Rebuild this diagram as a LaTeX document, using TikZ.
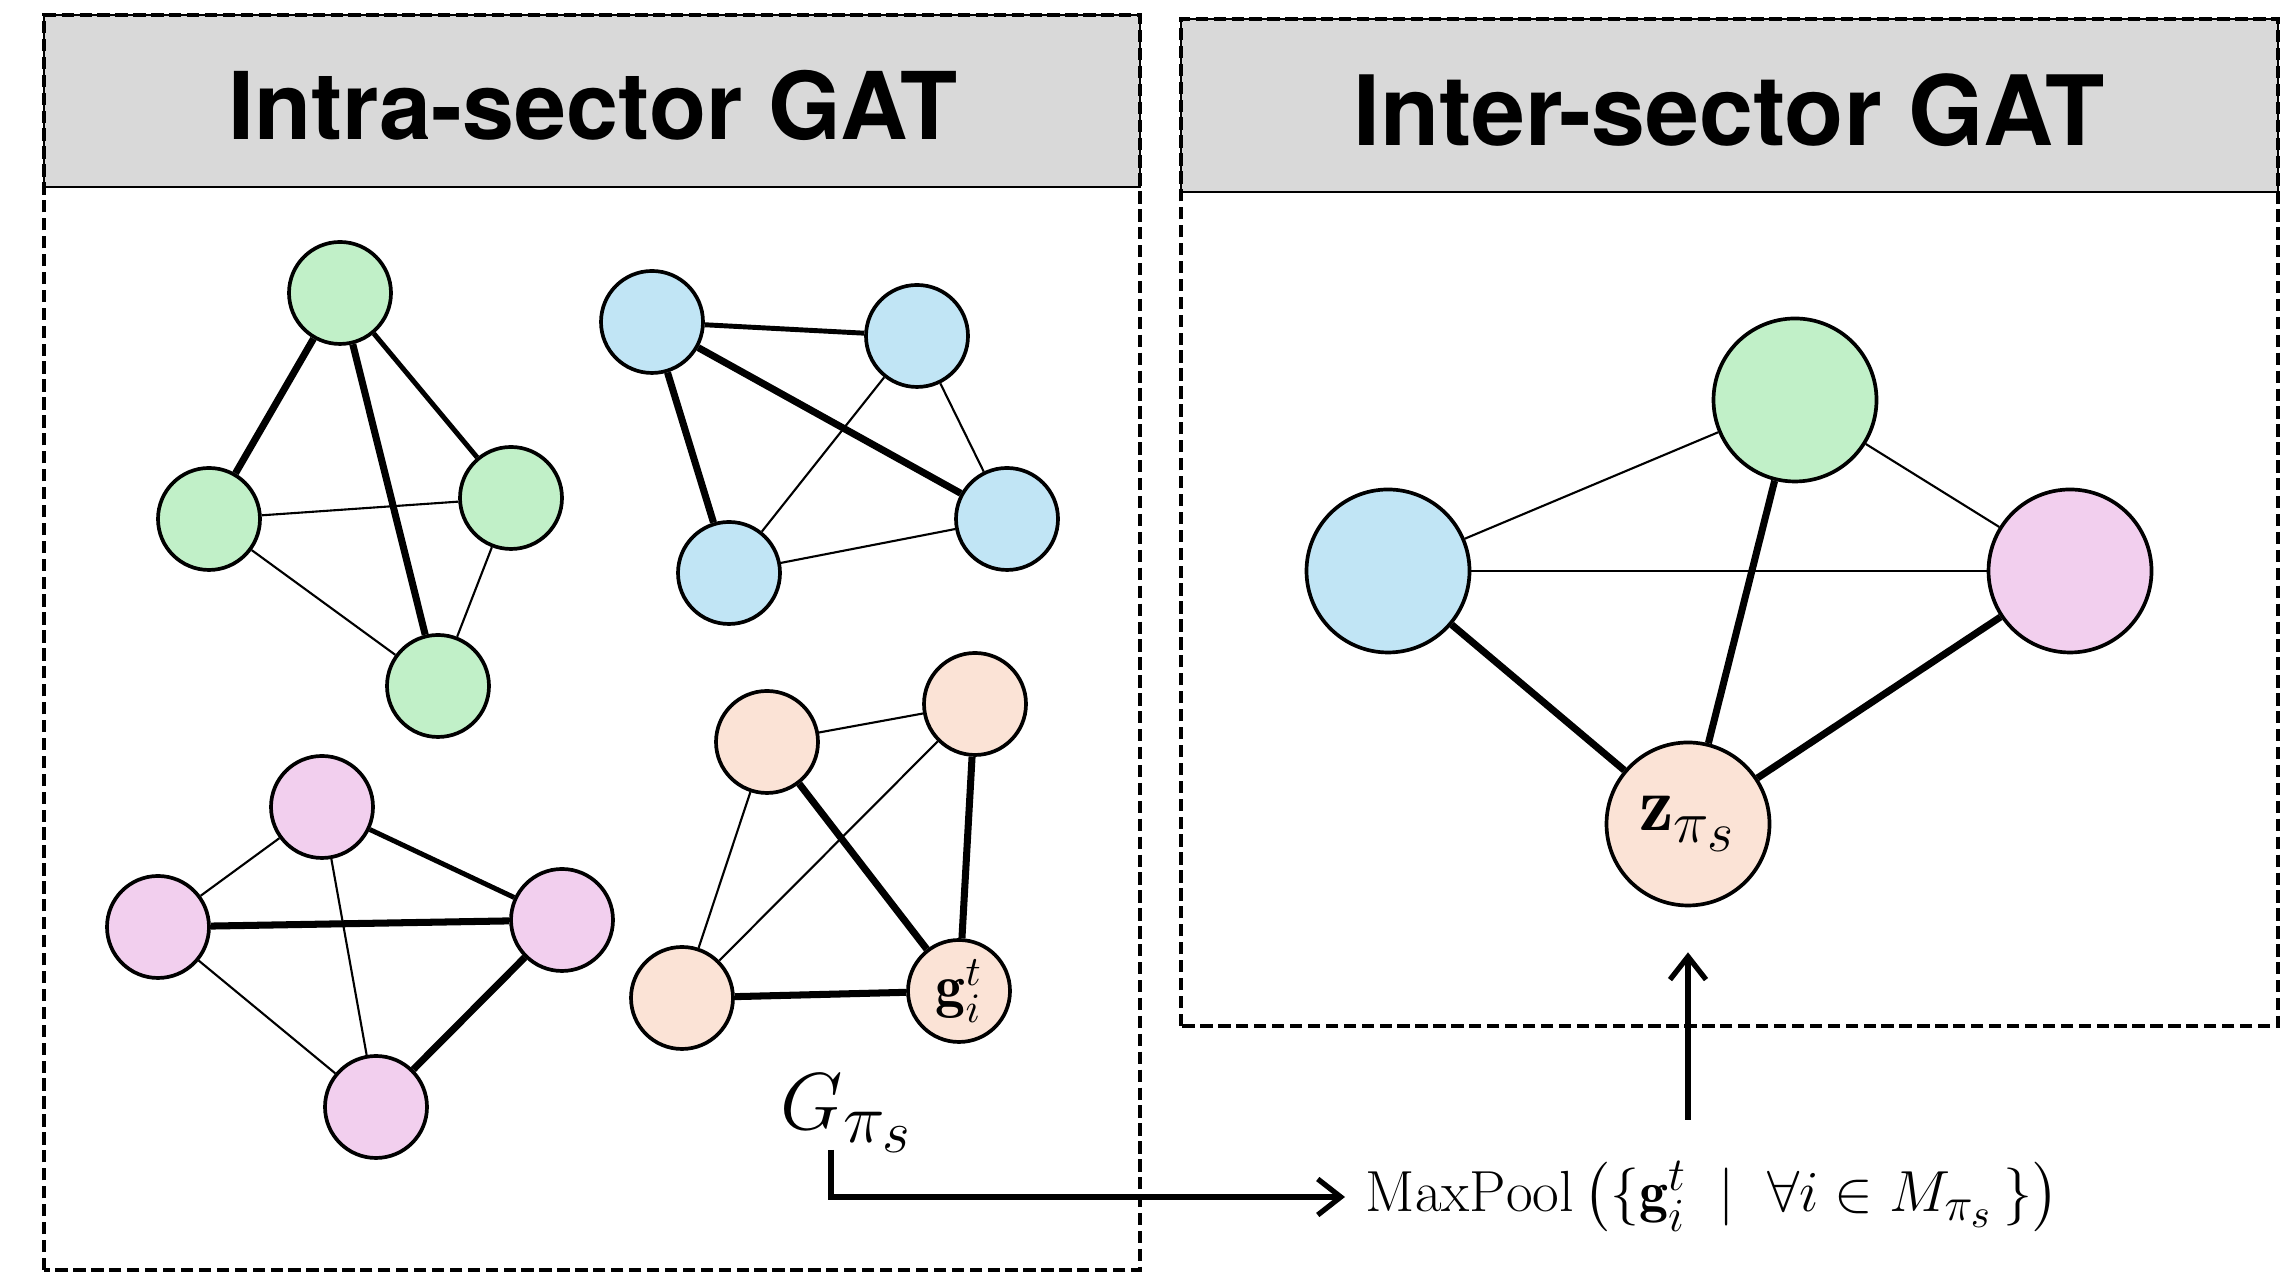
\RequirePackage{fix-cm}
\documentclass[tikz,border=0pt]{standalone}
\usepackage{amsmath,amssymb}
\usepackage{fontspec}
\newfontfamily\headfont{TeX Gyre Heros}
\usetikzlibrary{arrows.meta}

% larger script sizes for the formula labels
\DeclareMathSizes{16.5}{16.5}{13.5}{11.5}
\DeclareMathSizes{23}{23}{20}{17}
\DeclareMathSizes{22}{22}{17}{16}

\definecolor{grn}{HTML}{C1F0C8}
\definecolor{blu}{HTML}{C1E5F5}
\definecolor{pnk}{HTML}{F2CFEE}
\definecolor{org}{HTML}{FBE3D6}
\definecolor{hdr}{HTML}{D9D9D9}

\begin{document}
\begin{tikzpicture}[
    vtx/.style={draw, circle, line width=1.05pt, minimum size=1.02cm, inner sep=0pt},
    bigvtx/.style={vtx, minimum size=1.63cm},
    weak/.style={line width=0.6pt},
    mid/.style={line width=1.4pt},
    strong/.style={line width=2pt},
    frame/.style={line width=1pt, dash pattern=on 3.5pt off 1.6pt},
    header/.style={draw, fill=hdr, line width=0.8pt},
    title/.style={font=\headfont\bfseries\fontsize{#1}{30}\selectfont},
    flow/.style={line width=1.5pt, -{Straight Barb[length=2.3mm, width=3.6mm]}}
]
    \useasboundingbox (0,0) rectangle (22.95,12.74);

    % panels
    \draw[header] (0.44,10.87) rectangle (11.40,12.59);
    \draw[frame] (0.44,0.04) rectangle (11.40,12.59);
    \draw[header] (11.81,10.82) rectangle (22.78,12.55);
    \draw[frame] (11.81,2.48) rectangle (22.78,12.55);

    \node[title=26.6] (intra) at (5.93,11.69) {Intra-sector GAT};
    \node[title=27.6] (inter) at (17.29,11.64) {Inter-sector GAT};

    % sector graphs
    \node[vtx, fill=grn] (g1) at (3.40,9.81) {};
    \node[vtx, fill=grn] (g2) at (2.09,7.55) {};
    \node[vtx, fill=grn] (g3) at (5.11,7.76) {};
    \node[vtx, fill=grn] (g4) at (4.38,5.88) {};
    \draw[strong] (g1) -- (g2);
    \draw[strong] (g1) -- (g4);
    \draw[mid] (g1) -- (g3);
    \draw[weak] (g2) -- (g3);
    \draw[weak] (g2) -- (g4);
    \draw[weak] (g3) -- (g4);

    \node[vtx, fill=blu] (b1) at (6.52,9.52) {};
    \node[vtx, fill=blu] (b2) at (9.17,9.38) {};
    \node[vtx, fill=blu] (b3) at (7.29,7.01) {};
    \node[vtx, fill=blu] (b4) at (10.07,7.55) {};
    \draw[mid] (b1) -- (b2);
    \draw[strong] (b1) -- (b3);
    \draw[strong] (b1) -- (b4);
    \draw[weak] (b2) -- (b3);
    \draw[weak] (b2) -- (b4);
    \draw[weak] (b3) -- (b4);

    \node[vtx, fill=pnk] (p1) at (3.22,4.67) {};
    \node[vtx, fill=pnk] (p2) at (1.58,3.47) {};
    \node[vtx, fill=pnk] (p3) at (5.62,3.54) {};
    \node[vtx, fill=pnk] (p4) at (3.76,1.67) {};
    \draw[mid] (p1) -- (p3);
    \draw[strong] (p2) -- (p3);
    \draw[strong] (p3) -- (p4);
    \draw[weak] (p1) -- (p2);
    \draw[weak] (p1) -- (p4);
    \draw[weak] (p2) -- (p4);

    \node[vtx, fill=org] (o1) at (7.67,5.32) {};
    \node[vtx, fill=org] (o2) at (9.75,5.70) {};
    \node[vtx, fill=org] (o3) at (6.82,2.76) {};
    \node[vtx, fill=org, font=\fontsize{17}{20}\selectfont] (o4) at (9.59,2.83) {$\mathbf{g}_i^t$};
    \draw[strong] (o1) -- (o4);
    \draw[strong] (o2) -- (o4);
    \draw[strong] (o3) -- (o4);
    \draw[weak] (o1) -- (o2);
    \draw[weak] (o1) -- (o3);
    \draw[weak] (o2) -- (o3);

    \node[anchor=base west, inner sep=0pt, font=\fontsize{23}{27}\selectfont] (gpi) at (7.80,1.44) {$G_{\pi_s}$};

    % sector level graph
    \node[bigvtx, fill=blu] (sb) at (13.88,7.03) {};
    \node[bigvtx, fill=grn] (sg) at (17.95,8.74) {};
    \node[bigvtx, fill=pnk] (sp) at (20.70,7.03) {};
    \node[bigvtx, fill=org, font=\fontsize{22}{26}\selectfont] (sz) at (16.88,4.50) {$\mathbf{z}_{\pi_s}$};
    \draw[weak] (sb) -- (sg);
    \draw[weak] (sb) -- (sp);
    \draw[weak] (sg) -- (sp);
    \draw[strong] (sb) -- (sz);
    \draw[strong] (sg) -- (sz);
    \draw[strong] (sp) -- (sz);

    % pooling
    \node[anchor=west, inner sep=0.2cm, font=\fontsize{16.5}{20}\selectfont] (pool) at (13.45,0.77)
        {$\mathrm{MaxPool}\,\big(\{\mathbf{g}_i^t \;\mid\; \forall i \in M_{\pi_s}\,\}\big)$};
    \coordinate (gfoot) at (8.31,1.24);
    \coordinate (zfoot) at (16.88,1.54);
    \draw[flow] (gfoot) |- (pool.west);
    \draw[flow, shorten >=0.45cm] (zfoot) -- (sz);
\end{tikzpicture}
\end{document}
